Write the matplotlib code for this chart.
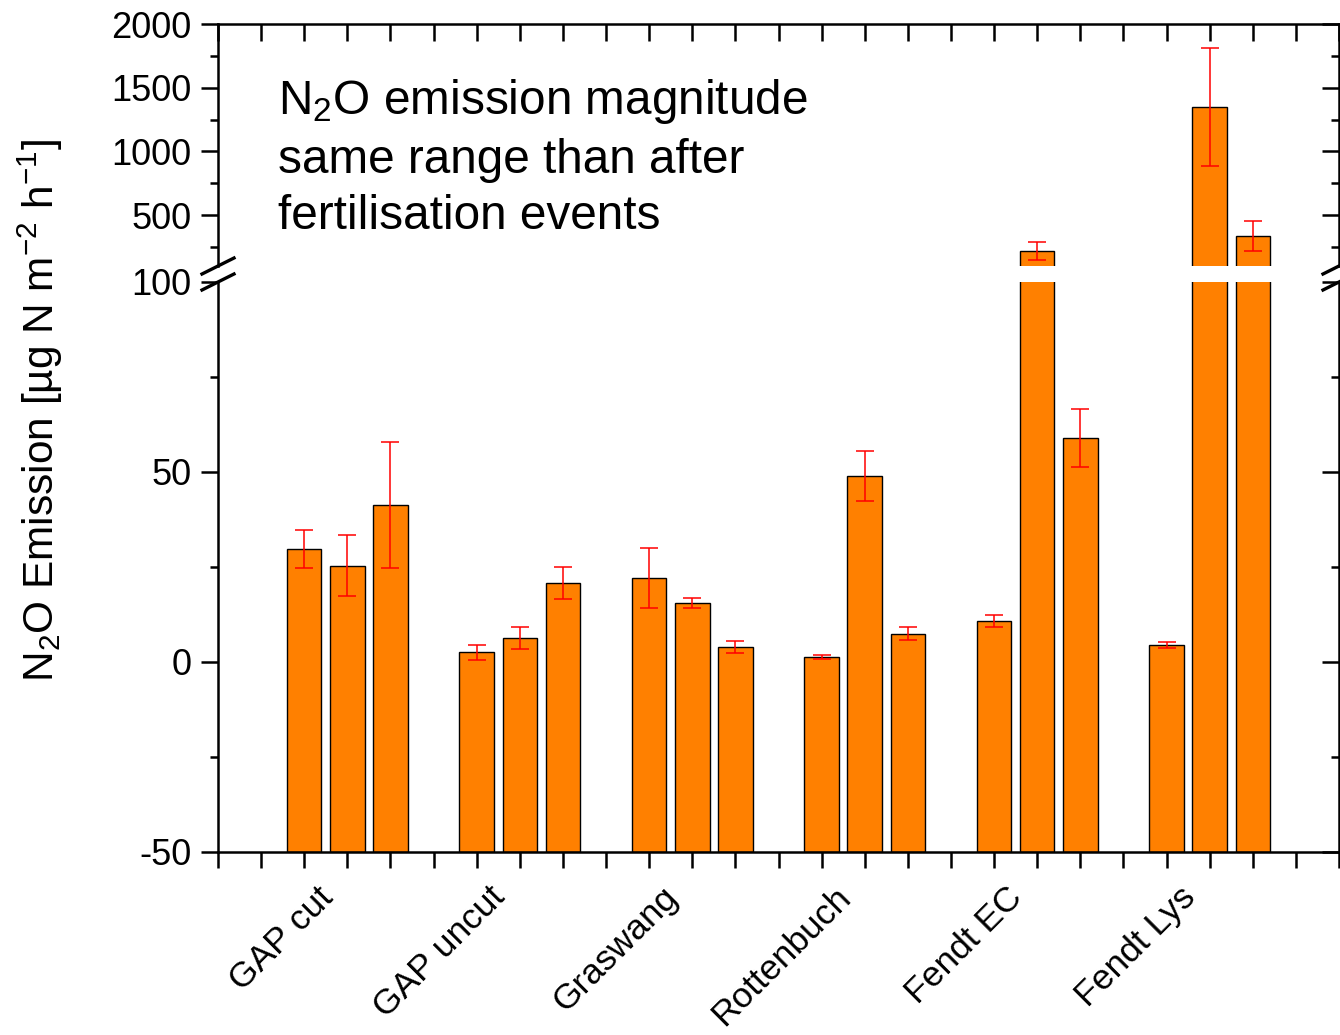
import numpy as np
import matplotlib
matplotlib.use("Agg")
import matplotlib.pyplot as plt
from matplotlib.ticker import MultipleLocator
from matplotlib.transforms import blended_transform_factory, ScaledTranslation
from matplotlib.lines import Line2D

plt.rcParams["font.family"] = ["Liberation Sans", "DejaVu Sans"]
plt.rcParams["mathtext.default"] = "regular"
plt.rcParams["axes.unicode_minus"] = False

# Site names and mean N2O fluxes (three campaigns per site) with their errors
sites = ["GAP cut", "GAP uncut", "Graswang", "Rottenbuch", "Fendt EC", "Fendt Lys"]
flux_mean = [
    [29.7, 25.3, 41.3],
    [2.6, 6.3, 20.8],
    [22.1, 15.5, 3.9],
    [1.3, 48.9, 7.4],
    [10.8, 220.0, 58.9],
    [4.5, 1346.0, 335.0],
]
flux_err = [
    [5.0, 8.0, 16.5],
    [2.0, 2.8, 4.2],
    [8.0, 1.3, 1.5],
    [0.6, 6.5, 1.7],
    [1.6, 70.0, 7.6],
    [0.8, 463.0, 120.0],
]
low_ticks = [-50, 0, 50, 100]
high_ticks = [500, 1000, 1500, 2000]
baseline = -50  # bars start at the bottom of the axis

means = np.array(flux_mean).ravel()
errs = np.array(flux_err).ravel()
n_sites = len(sites)
xpos = (np.arange(n_sites)[:, None] * 4 + 2 + np.arange(3)[None, :]).ravel()
centers = np.arange(n_sites) * 4 + 3

W, H = 1340, 1035
fig = plt.figure(figsize=(W / 100, H / 100), dpi=100)

left = 218 / W
width = (1339 - 218) / W
ax_hi = fig.add_axes([left, 1 - 266 / H, width, (266 - 24) / H])
ax_lo = fig.add_axes([left, 1 - 852 / H, width, (852 - 282) / H])

bar_kw = dict(width=0.8, color="#FF8000", edgecolor="black", linewidth=1.0, zorder=2)
err_kw = dict(fmt="none", ecolor="#FF0000", elinewidth=1.1, capsize=6.2, capthick=1.1, zorder=3)

for ax in (ax_hi, ax_lo):
    ax.bar(xpos, means - baseline, bottom=baseline, **bar_kw)
    ax.errorbar(xpos, means, yerr=errs, **err_kw)
    ax.set_xlim(0, 26)
    ax.xaxis.set_major_locator(MultipleLocator(1))
    ax.set_xticklabels([])
    for s in ax.spines.values():
        s.set_linewidth(1.8)
    ax.tick_params(axis="both", which="major", width=1.8, length=12, labelsize=26, pad=7)
    ax.tick_params(axis="y", which="minor", width=1.8, length=6)
    ax.tick_params(axis="y", which="both", right=True, direction="out")

# upper segment
ax_hi.set_ylim(100, 2000)
ax_hi.set_yticks(high_ticks)
ax_hi.yaxis.set_minor_locator(MultipleLocator(250))
ax_hi.spines["bottom"].set_visible(False)
ax_hi.tick_params(axis="x", which="major", bottom=False, top=True, direction="in")

# lower segment
ax_lo.set_ylim(-50, 100)
ax_lo.set_yticks(low_ticks)
ax_lo.yaxis.set_minor_locator(MultipleLocator(25))
ax_lo.spines["top"].set_visible(False)
ax_lo.tick_params(axis="x", which="major", bottom=True, top=False, direction="out", length=11.5)

# right-hand ticks point into the plot
for ax in (ax_hi, ax_lo):
    for t in ax.yaxis.get_major_ticks() + ax.yaxis.get_minor_ticks():
        t.tick2line.set_marker(matplotlib.markers.TICKLEFT)

# break marks on both y spines
for yb in (266, 282):
    for xs in (218, 1339):
        fig.add_artist(Line2D([(xs - 16) / W, (xs + 16) / W],
                              [1 - (yb + 8) / H, 1 - (yb - 8) / H],
                              color="black", linewidth=2.4, clip_on=False))

# site labels under each group
trans = blended_transform_factory(ax_lo.transData, ax_lo.transAxes) + \
    ScaledTranslation(-13 / 100, -47 / 100, fig.dpi_scale_trans)
for c, name in zip(centers, sites):
    ax_lo.text(c, 0, name, transform=trans, rotation=45, rotation_mode="anchor",
               ha="right", va="baseline", fontsize=25.5)

ax_hi.text((278 - 218) / (1339 - 218), 1 - (77 - 24) / (266 - 24),
           "N$_2$O emission magnitude\nsame range than after\nfertilisation events",
           transform=ax_hi.transAxes, ha="left", va="top", fontsize=34.4, linespacing=1.33)

fig.text(40 / W, 1 - 410 / H, "N$_2$O Emission [µg N m$^{-2}$ h$^{-1}$]",
         rotation=90, ha="center", va="center", fontsize=30.5)

fig.savefig("out.png", dpi=100)
